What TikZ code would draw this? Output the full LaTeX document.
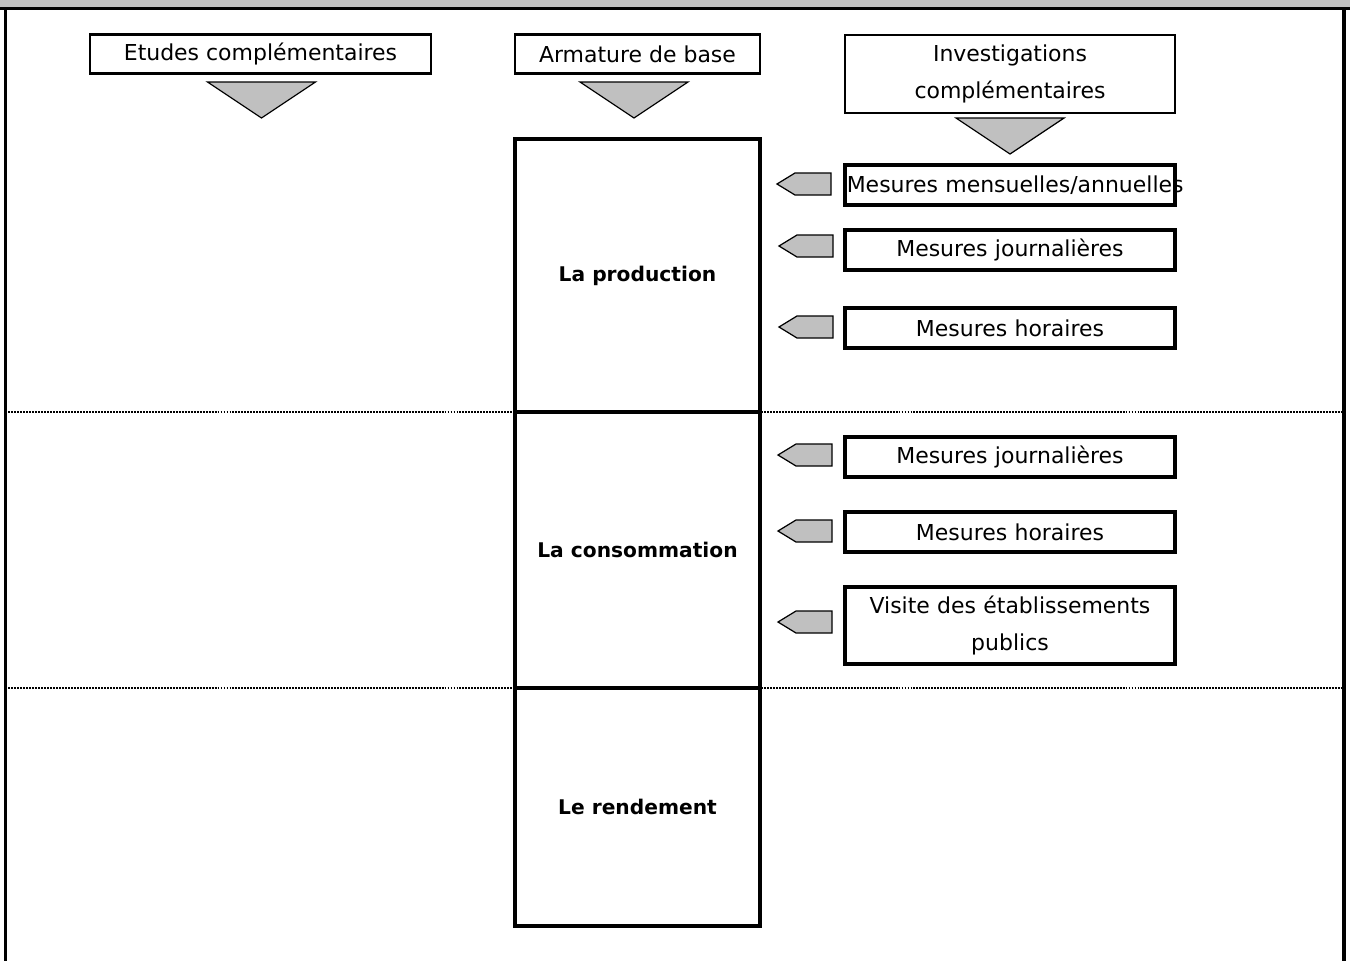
\documentclass[tikz,border=0pt]{standalone}
\usepackage{fontspec}
\setmainfont{DejaVu Sans}
\definecolor{greyfill}{HTML}{C0C0C0}
\begin{document}
\begin{tikzpicture}[x=0.02cm,y=-0.02cm,
  txt/.style={font=\fontsize{12.5}{21.5}\selectfont},
  topbox/.style={draw, line width=1.4pt, fill=white, inner sep=0pt, align=center, txt, minimum height=0.78cm},
  colbox/.style={draw, line width=1.9pt, fill=white, inner sep=0pt, minimum width=4.9cm, font=\fontsize{11.5}{14}\selectfont\bfseries},
  mbox/.style={draw, line width=1.9pt, fill=white, inner sep=0pt, align=center, txt, text width=6.6cm, minimum height=0.8cm},
  frameline/.style={line width=2pt},
  sepline/.style={line width=1.4pt, dash pattern=on 1.1pt off 0.6pt},
  tri/.pic={\draw[line width=0.7pt, fill=greyfill] (-54,0) -- (54,0) -- (0,36) -- cycle;},
  flag/.pic={\draw[line width=0.7pt, fill=greyfill] (-27,0) -- (-9,-11) -- (27,-11) -- (27,11) -- (-9,11) -- cycle;}
]
\useasboundingbox (0,0) rectangle (1350,961);
% frame
\fill[greyfill] (0,0) rectangle (1350,8);
\coordinate (ftl) at (5.5,8.5);
\coordinate (ftr) at (1344,8.5);
\coordinate (fbl) at (5.5,961);
\coordinate (fbr) at (1344,961);
\draw[frameline] (0,8.5) -- (1350,8.5);
\draw[frameline] (ftl) -- (fbl);
\draw[frameline] (ftr) -- (fbr);

% top boxes
\node[topbox, minimum width=6.82cm] (etudes) at (260.5,54) {Etudes complémentaires};
\node[topbox, minimum width=4.9cm] (armature) at (637.5,54) {Armature de base};
\node[topbox, minimum width=6.6cm, minimum height=1.56cm] (invest) at (1010,74) {Investigations\\complémentaires};

\pic at (261.5,82) {tri};
\pic at (634,82) {tri};
\pic at (1010,118) {tri};

% separators
\coordinate (s1l) at (5.5,412);
\coordinate (s1r) at (1344,412);
\coordinate (s2l) at (5.5,688);
\coordinate (s2r) at (1344,688);
\draw[sepline] (s1l) -- (s1r);
\draw[sepline] (s2l) -- (s2r);

% column
\node[colbox, minimum height=5.46cm] (prod) at (637.5,275.5) {La production};
\node[colbox, minimum height=5.52cm] (conso) at (637.5,550) {La consommation};
\node[colbox, minimum height=4.76cm] (rend) at (637.5,807) {Le rendement};

% right boxes
\node[mbox] (m1) at (1010,185) {\makebox[6.6cm][l]{\hspace{1pt}Mesures mensuelles/annuelles}};
\node[mbox] (m2) at (1010,250) {Mesures journalières};
\node[mbox] (m3) at (1010,328) {Mesures horaires};
\node[mbox] (m4) at (1010,457) {Mesures journalières};
\node[mbox] (m5) at (1010,532) {Mesures horaires};
\node[mbox, minimum height=1.54cm] (m6) at (1010,625.5) {Visite des établissements\\publics};

\pic at (804,184) {flag};
\pic at (806,246) {flag};
\pic at (806,327) {flag};
\pic at (805,455) {flag};
\pic at (805,531) {flag};
\pic at (805,622) {flag};
\end{tikzpicture}
\end{document}
